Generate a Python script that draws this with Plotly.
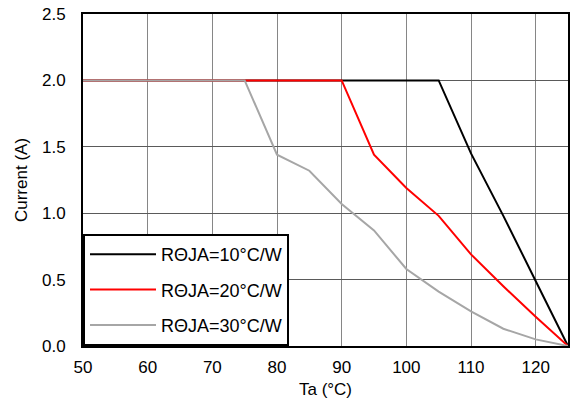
import plotly.graph_objects as go

ta = [50, 55, 60, 65, 70, 75, 80, 85, 90, 95, 100, 105, 110, 115, 120, 125]
r10 = [2.0, 2.0, 2.0, 2.0, 2.0, 2.0, 2.0, 2.0, 2.0, 2.0, 2.0, 2.0, 1.45, 0.98, 0.49, 0.0]
r20 = [2.0, 2.0, 2.0, 2.0, 2.0, 2.0, 2.0, 2.0, 2.0, 1.44, 1.19, 0.98, 0.69, 0.45, 0.22, 0.0]
r30 = [2.0, 2.0, 2.0, 2.0, 2.0, 2.0, 1.44, 1.32, 1.07, 0.87, 0.58, 0.41, 0.26, 0.13, 0.05, 0.0]
names = ["RΘJA=10°C/W", "RΘJA=20°C/W", "RΘJA=30°C/W"]
colors = ["#000000", "#ff0000", "#a6a6a6"]
x_ticks = [50, 60, 70, 80, 90, 100, 110, 120]
y_ticks = [0.0, 0.5, 1.0, 1.5, 2.0, 2.5]

series = [r10, r20, r30]
fig = go.Figure()
for i in range(3):
    fig.add_trace(go.Scatter(x=ta, y=series[i], mode="lines", name=names[i],
                             line=dict(color=colors[i], width=2),
                             legendgroup=f"g{i}"))

font = "Liberation Sans, Arial, sans-serif"
fs = 17
fig.update_layout(
    width=571, height=408,
    margin=dict(l=83, r=1, t=14, b=62),
    paper_bgcolor="white", plot_bgcolor="white",
    font=dict(family=font, size=fs, color="#000000"),
    showlegend=True,
    legend=dict(x=0, y=0, xanchor="left", yanchor="bottom",
                bgcolor="white", bordercolor="black", borderwidth=2,
                font=dict(size=18), itemwidth=66,
                tracegroupgap=9, traceorder="grouped",
                entrywidth=227, entrywidthmode="pixels"),
)
fig.update_xaxes(range=[50, 125], tickvals=x_ticks, showgrid=True,
                 gridcolor="#868686", gridwidth=1, showline=True,
                 linecolor="black", linewidth=2, mirror=True, ticks="",
                 ticklabelstandoff=5,
                 title=dict(text="Ta (°C)", font=dict(size=fs), standoff=7),
                 zeroline=False, tickfont=dict(size=fs))
fig.update_yaxes(range=[0, 2.5], tickvals=y_ticks, tickformat=".1f", showgrid=True,
                 gridcolor="#5a5a5a", gridwidth=1, showline=True,
                 linecolor="black", linewidth=2, mirror=True, ticks="",
                 ticklabelstandoff=12,
                 title=dict(text="Current (A)", font=dict(size=fs), standoff=10),
                 zeroline=False, tickfont=dict(size=fs))

fig.write_html("out.html", config={"displayModeBar": False},
               post_script="document.body.style.margin='0';")
